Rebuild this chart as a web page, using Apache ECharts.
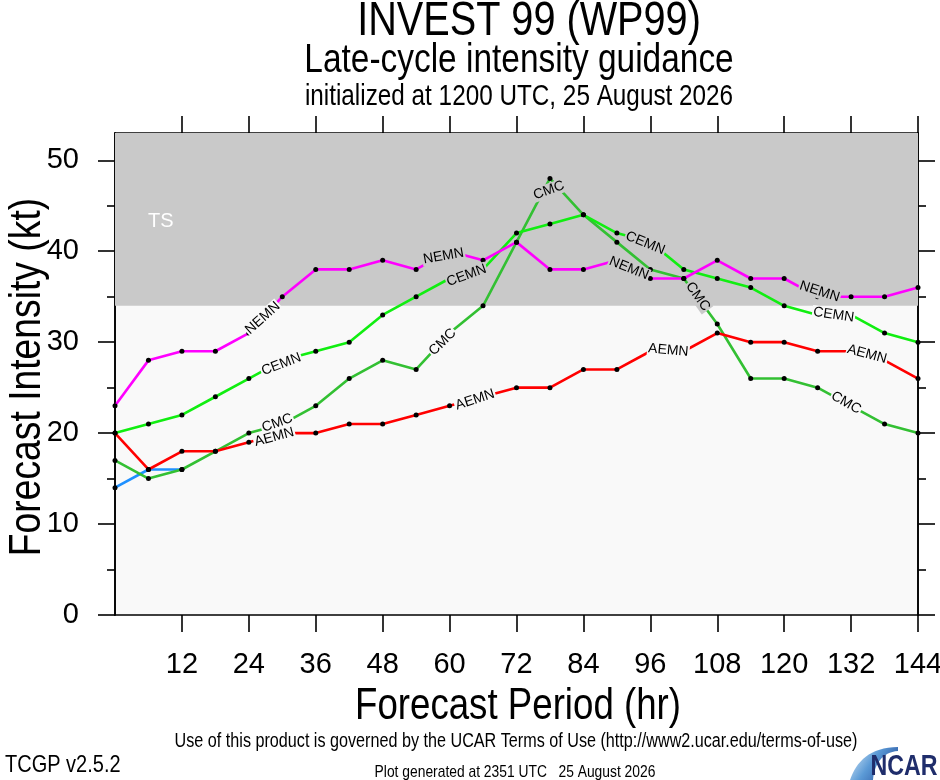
<!DOCTYPE html>
<html><head><meta charset="utf-8">
<script src="https://cdn.jsdelivr.net/npm/echarts@6.0.0/dist/echarts.min.js"></script>
<style>html,body{margin:0;padding:0;background:#fff}#c{width:940px;height:780px}</style>
</head><body><div id="c"></div>
<script>
// ---------------- data ----------------
const hours = [0,6,12,18,24,30,36,42,48,54,60,66,72,78,84,90,96,102,108,114,120,126,132,138,144];
const NEMN  = [23,28,29,29,31,35,38,38,39,38,40,39,41,38,38,39,37,37,39,37,37,35,35,35,36];
const CEMN  = [20,21,22,24,26,28,29,30,33,35,37,38,42,43,44,42,41,38,37,36,34,33,33,31,30];
const CMC   = [17,15,16,18,20,21,23,26,28,27,31,34,41,48,44,41,38,37,32,26,26,25,23,21,20];
const AEMN  = [20,16,18,18,19,20,20,21,21,22,23,24,25,25,27,27,29,29,31,30,30,29,29,28,26];
const OTHER = [14,16,16];
const xTickValues = [12,24,36,48,60,72,84,96,108,120,132,144];
const yTickValues = [0,10,20,30,40,50];
const yMinorValues = [5,15,25,35,45];
const tsThreshold = 34;
const yMax = 53;

// ---------------- styles ----------------
const FS = "'Liberation Sans',Arial,sans-serif";
const GRAY = '#c9c9c9', LIGHT = '#f9f9f9';

function lab(text, dx, dy, rot, bg) {
  const t = rot * Math.PI / 180;
  return {
    show: true, formatter: text, position: 'inside', rotate: rot,
    offset: [dx*Math.cos(t) - dy*Math.sin(t), dx*Math.sin(t) + dy*Math.cos(t)],
    align: 'center', verticalAlign: 'middle',
    fontSize: 14, fontFamily: FS, color: '#000',
    backgroundColor: bg, padding: [0, 1]
  };
}
// label placement: index of anchor point -> label config
const labelsNEMN = {4: lab('NEMN',14,-15,42,LIGHT), 10: lab('NEMN',-6,5,10,GRAY), 15: lab('NEMN',12,8,-22,GRAY), 21: lab('NEMN',2,-5,-18,GRAY)};
const labelsCEMN = {5: lab('CEMN',-1,4,21,LIGHT), 10: lab('CEMN',17,-3,20,GRAY), 16: lab('CEMN',-5,1,-22,GRAY), 21: lab('CEMN',16,0,-8,LIGHT)};
const labelsCMC  = {5: lab('CMC',-5,-1,20,LIGHT), 10: lab('CMC',-7,9,45,LIGHT), 13: lab('CMC',-1,12,20,GRAY), 17: lab('CMC',14,18,-55,GRAY), 22: lab('CMC',-5,-3,-30,LIGHT)};
const labelsAEMN = {5: lab('AEMN',-8,4,15,LIGHT), 11: lab('AEMN',-8,3,18,LIGHT), 16: lab('AEMN',18,-1,-5,LIGHT), 22: lab('AEMN',16,3,-15,LIGHT)};

function build(vals, labels) {
  return vals.map((v, i) => {
    const item = { value: [hours[i], v] };
    if (labels && labels[i]) item.label = labels[i];
    return item;
  });
}
function lineSeries(name, vals, color, labels, extra) {
  return Object.assign({
    name, type: 'line', data: build(vals, labels),
    xAxisIndex: 0, yAxisIndex: 0,
    symbol: 'circle', symbolSize: 5, showSymbol: true,
    itemStyle: { color: '#000' },
    lineStyle: { color, width: 2.6 },
    label: { show: false },
    emphasis: { disabled: true },
    z: 3
  }, extra || {});
}

const axisLineStyle = { color: '#000', width: 1.6 };
function xAx(pos, showLabel) {
  return {
    type: 'value', position: pos, min: 0, max: 144, interval: 12,
    axisLine: { show: true, onZero: false, lineStyle: axisLineStyle },
    axisTick: { show: true, inside: false, length: 17, customValues: xTickValues, lineStyle: axisLineStyle },
    axisLabel: { show: showLabel, customValues: xTickValues, fontSize: 29, fontFamily: FS, color: '#000', margin: 35 },
    splitLine: { show: false }
  };
}
function yAx(pos, ticks, len, showLabel) {
  return {
    type: 'value', position: pos, min: 0, max: yMax, offset: 0,
    axisLine: { show: true, onZero: false, lineStyle: axisLineStyle },
    axisTick: { show: true, inside: false, length: len, customValues: ticks, lineStyle: axisLineStyle },
    axisLabel: { show: showLabel, customValues: ticks, fontSize: 29, fontFamily: FS, color: '#000', margin: 36 },
    splitLine: { show: false }
  };
}

// condensed text: real text, horizontally squeezed like the original Helvetica Narrow
function txt(text, x, y, size, sx, extra) {
  return Object.assign({
    type: 'text', x, y, scaleX: sx, silent: true,
    style: { text, fill: '#000', font: size + 'px ' + FS, textAlign: 'center', textVerticalAlign: 'middle' }
  }, extra || {});
}

// NCAR logo swoosh outline (decoration), sampled from two cubic curves
function cubic(p0, p1, p2, p3, n) {
  const out = [];
  for (let i = 0; i <= n; i++) {
    const t = i / n, u = 1 - t;
    out.push([u*u*u*p0[0] + 3*u*u*t*p1[0] + 3*u*t*t*p2[0] + t*t*t*p3[0],
              u*u*u*p0[1] + 3*u*u*t*p1[1] + 3*u*t*t*p2[1] + t*t*t*p3[1]]);
  }
  return out;
}
const swoosh = cubic([850,780],[856,762],[870,747],[898,747],16)
  .concat(cubic([898,751],[882,752],[874,765],[873,780],16));

const option = {
  animation: false,
  backgroundColor: '#fff',
  grid: { left: 115, right: 22, top: 133, bottom: 165, show: true, backgroundColor: LIGHT, borderWidth: 0,
          containLabel: false, outerBoundsMode: 'none' },
  xAxis: [xAx('bottom', true), xAx('top', false)],
  yAxis: [yAx('left', yTickValues, 17, true), yAx('left', yMinorValues, 8, false),
          yAx('right', yTickValues, 17, false), yAx('right', yMinorValues, 8, false)],
  series: [
    lineSeries('OTHER', OTHER, '#1e90ff', null, {
      markArea: {
        silent: true,
        itemStyle: { color: GRAY },
        label: { show: true, formatter: 'TS', position: [33, 78], color: '#fff', fontSize: 20, fontFamily: FS },
        data: [[{ yAxis: tsThreshold }, { yAxis: yMax }]]
      }
    }),
    lineSeries('CMC', CMC, '#33c033', labelsCMC),
    lineSeries('CEMN', CEMN, '#11ee11', labelsCEMN),
    lineSeries('AEMN', AEMN, '#ff0000', labelsAEMN),
    lineSeries('NEMN', NEMN, '#ff00ff', labelsNEMN)
  ],
  graphic: [
    txt('INVEST 99 (WP99)', 529, 22, 48, 0.826),
    txt('Late-cycle intensity guidance', 519, 61, 40, 0.836),
    txt('initialized at 1200 UTC, 25 August 2026', 519, 97, 30, 0.81),
    txt('Forecast Period (hr)', 518, 707, 44, 0.833),
    txt('Forecast Intensity (kt)', 28, 377, 44, 0.847, { rotation: Math.PI / 2 }),
    txt('Use of this product is governed by the UCAR Terms of Use (http://www2.ucar.edu/terms-of-use)', 516, 742, 19.5, 0.829),
    {
      type: 'text', x: 5, y: 765, scaleX: 0.833, silent: true,
      style: { text: 'TCGP v2.5.2', fill: '#000', font: '24px ' + FS, textAlign: 'left', textVerticalAlign: 'middle' }
    },
    txt('Plot generated at 2351 UTC   25 August 2026', 515, 772, 17, 0.814),
    {
      type: 'polygon', silent: true,
      shape: { points: swoosh },
      style: { fill: { type: 'linear', x: 0, y: 0, x2: 1, y2: 1, colorStops: [{ offset: 0, color: '#e3f1fb' }, { offset: 0.45, color: '#5b9ad6' }, { offset: 1, color: '#1b3f8f' }] } }
    },
    {
      type: 'text', x: 904, y: 767, scaleX: 0.8, silent: true,
      style: { text: 'NCAR', fill: '#1f2d6b', font: 'bold 29px ' + FS, textAlign: 'center', textVerticalAlign: 'middle' }
    }
  ]
};
const chart = echarts.init(document.getElementById('c'), null, { renderer: 'canvas' });
chart.setOption(option);
</script>
</body></html>
